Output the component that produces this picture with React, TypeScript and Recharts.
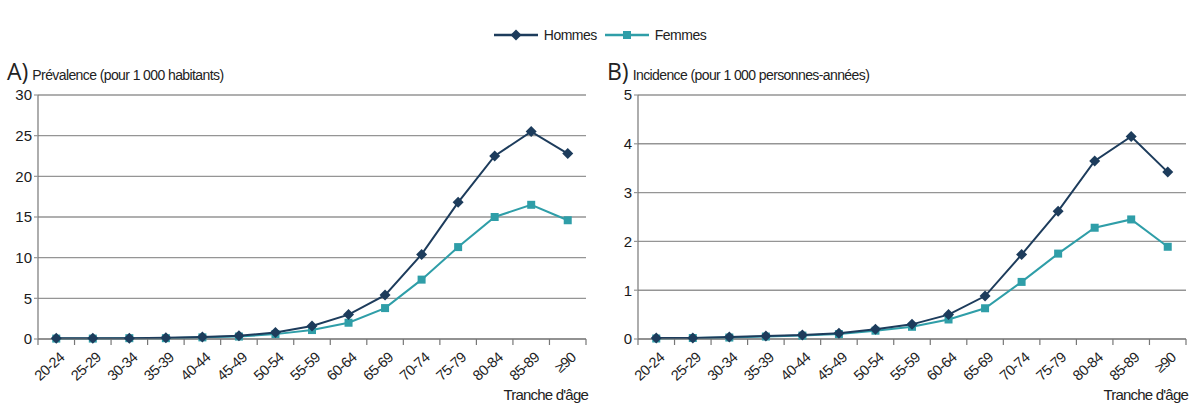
import { LineChart, Line, XAxis, YAxis, CartesianGrid } from 'recharts';

const ages = ['20-24', '25-29', '30-34', '35-39', '40-44', '45-49', '50-54', '55-59', '60-64', '65-69', '70-74', '75-79', '80-84', '85-89', '≥90'];

// A) Prévalence (pour 1 000 habitants)
const prevalenceHommes = [0.1, 0.1, 0.1, 0.15, 0.25, 0.4, 0.8, 1.6, 3.0, 5.4, 10.4, 16.8, 22.5, 25.5, 22.8];
const prevalenceFemmes = [0.05, 0.05, 0.1, 0.1, 0.2, 0.3, 0.6, 1.1, 2.0, 3.8, 7.3, 11.3, 15.0, 16.5, 14.6];
const prevalenceTicks = [0, 5, 10, 15, 20, 25, 30];

// B) Incidence (pour 1 000 personnes-années)
const incidenceHommes = [0.02, 0.02, 0.04, 0.06, 0.08, 0.12, 0.2, 0.3, 0.5, 0.88, 1.73, 2.62, 3.65, 4.15, 3.42];
const incidenceFemmes = [0.01, 0.02, 0.03, 0.05, 0.07, 0.1, 0.17, 0.25, 0.4, 0.63, 1.17, 1.75, 2.28, 2.45, 1.89];
const incidenceTicks = [0, 1, 2, 3, 4, 5];

const NAVY = '#1d3c5c';
const TEAL = '#2f9ea8';
const GRID = '#959595';
const FONT = '"Liberation Sans", Arial, sans-serif';

const CHART_W = 600;
const CHART_H = 408;
const PLOT_LEFT = 38;
const PLOT_RIGHT = 586;
const STEP = (PLOT_RIGHT - PLOT_LEFT) / ages.length;

const buildData = (h: number[], f: number[]) =>
  ages.map((age, i) => ({ age, hommes: h[i], femmes: f[i] }));

function Diamond({ cx, cy }: any) {
  if (cx == null || cy == null) return null;
  const r = 5.5;
  return <path d={`M${cx},${cy - r}L${cx + r},${cy}L${cx},${cy + r}L${cx - r},${cy}Z`} fill={NAVY} />;
}

function Square({ cx, cy }: any) {
  if (cx == null || cy == null) return null;
  const s = 4;
  return <rect x={cx - s} y={cy - s} width={s * 2} height={s * 2} fill={TEAL} />;
}

function AgeTick({ x, y, payload, index }: any) {
  const left = x - STEP / 2;
  const ax = x + 3;
  const ay = y + 5;
  return (
    <g>
      <line x1={left} y1={y - 8} x2={left} y2={y - 2} stroke="#777" strokeWidth={1.2} />
      {index === ages.length - 1 && (
        <line x1={x + STEP / 2} y1={y - 8} x2={x + STEP / 2} y2={y - 2} stroke="#777" strokeWidth={1.2} />
      )}
      <text
        x={ax}
        y={ay}
        dy={9}
        textAnchor="end"
        transform={`rotate(-42 ${ax} ${ay})`}
        fontSize={14.5}
        letterSpacing={-0.6}
        fontFamily={FONT}
        fill="#222"
      >
        {payload.value}
      </text>
    </g>
  );
}

function Panel({ letter, title, h, f, ticks, max }: any) {
  const data = buildData(h, f);
  return (
    <div style={{ position: 'relative', width: CHART_W, height: CHART_H }}>
      <div style={{ position: 'absolute', left: 7, top: 55, display: 'flex', alignItems: 'baseline', gap: 4 }}>
        <span style={{ fontFamily: '"Open Sans", sans-serif', fontSize: 23, color: '#222' }}>{letter}</span>
        <span style={{ fontFamily: FONT, fontSize: 14, letterSpacing: -0.6, color: '#222' }}>{title}</span>
      </div>
      <LineChart
        width={CHART_W}
        height={CHART_H}
        data={data}
        margin={{ top: 95, right: CHART_W - PLOT_RIGHT, left: 8, bottom: 9 }}
      >
        <CartesianGrid vertical={false} stroke={GRID} strokeWidth={1.4} />
        <XAxis
          dataKey="age"
          interval={0}
          height={60}
          padding={{ left: STEP / 2, right: STEP / 2 }}
          axisLine={{ stroke: '#777', strokeWidth: 1.2 }}
          tickLine={false}
          tick={(p: any) => <AgeTick {...p} />}
        />
        <YAxis
          domain={[0, max]}
          ticks={ticks}
          width={30}
          tickSize={4}
          tickMargin={2}
          axisLine={{ stroke: '#777', strokeWidth: 1.2 }}
          tickLine={{ stroke: GRID, strokeWidth: 1.2 }}
          tick={{ fontSize: 15, fill: '#1a1a1a', fontFamily: FONT }}
        />
        <Line
          dataKey="femmes"
          stroke={TEAL}
          strokeWidth={2}
          dot={<Square />}
          isAnimationActive={false}
        />
        <Line
          dataKey="hommes"
          stroke={NAVY}
          strokeWidth={2}
          dot={<Diamond />}
          isAnimationActive={false}
        />
      </LineChart>
      <div style={{ position: 'absolute', right: 12, top: 386, fontFamily: FONT, fontSize: 15, letterSpacing: -0.8, color: '#222' }}>
        Tranche d'âge
      </div>
    </div>
  );
}

export default function App() {
  return (
    <div style={{ position: 'absolute', left: 0, top: 0, width: 1200, height: 408, background: '#fff' }}>
      <div style={{ position: 'absolute', left: 0, top: 27, width: 1200, display: 'flex', justifyContent: 'center', fontFamily: FONT, fontSize: 14, letterSpacing: -0.5, color: '#222' }}>
        <div style={{ display: 'flex', alignItems: 'center', gap: 6, marginRight: 8 }}>
          <svg width={44} height={14}>
            <line x1={0} y1={7} x2={44} y2={7} stroke={NAVY} strokeWidth={2.5} />
            <path d="M22,1.5L27.5,7L22,12.5L16.5,7Z" fill={NAVY} />
          </svg>
          <span>Hommes</span>
        </div>
        <div style={{ display: 'flex', alignItems: 'center', gap: 6 }}>
          <svg width={44} height={14}>
            <line x1={0} y1={7} x2={44} y2={7} stroke={TEAL} strokeWidth={2.5} />
            <rect x={18} y={3} width={8} height={8} fill={TEAL} />
          </svg>
          <span>Femmes</span>
        </div>
      </div>
      <div style={{ position: 'absolute', left: 0, top: 0 }}>
        <Panel letter="A)" title="Prévalence (pour 1 000 habitants)" h={prevalenceHommes} f={prevalenceFemmes} ticks={prevalenceTicks} max={30} />
      </div>
      <div style={{ position: 'absolute', left: 600, top: 0 }}>
        <Panel letter="B)" title="Incidence (pour 1 000 personnes-années)" h={incidenceHommes} f={incidenceFemmes} ticks={incidenceTicks} max={5} />
      </div>
    </div>
  );
}
